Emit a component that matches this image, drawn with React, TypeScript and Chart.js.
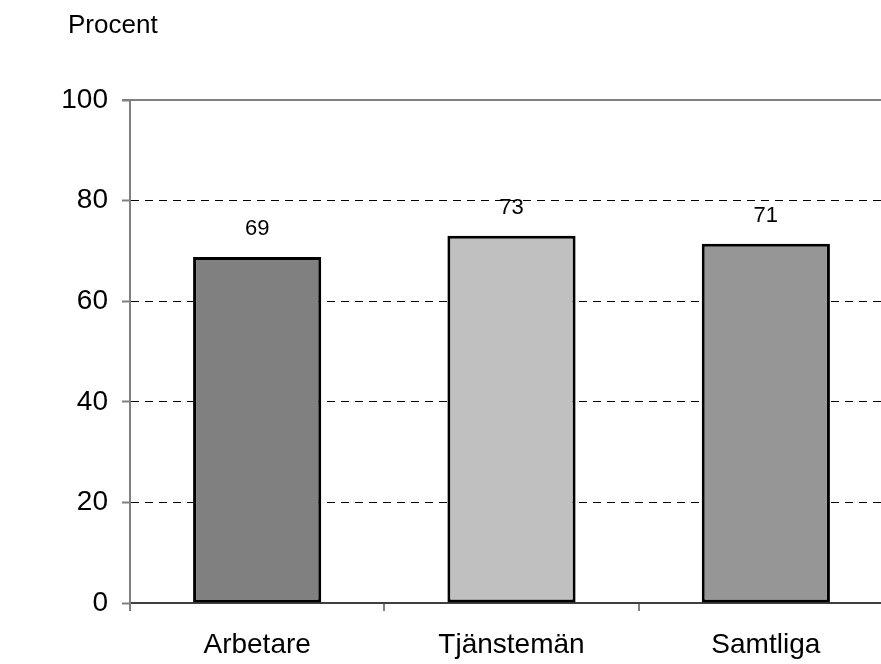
import React, { useEffect, useRef } from "react";
import { Chart, registerables } from "chart.js";

Chart.register(...registerables);

const categories = ["Arbetare", "Tjänstemän", "Samtliga"];
const values = [68.8, 73.0, 71.4];
const valueLabels = ["69", "73", "71"];
const barColors = ["#808080", "#C0C0C0", "#969696"];
const yTicks = [0, 20, 40, 60, 80, 100];
const yTitle = "Procent";

const FONT = "'Liberation Sans', Arial, sans-serif";

export default function App() {
  const ref = useRef<HTMLCanvasElement | null>(null);

  useEffect(() => {
    if (!ref.current) return;
    const overlay = {
      id: "overlay",
      afterDatasetsDraw(chart: any) {
        const ctx = chart.ctx;
        const meta = chart.getDatasetMeta(0);
        ctx.save();
        ctx.fillStyle = "#000";
        ctx.font = `22px ${FONT}`;
        ctx.textAlign = "center";
        ctx.textBaseline = "middle";
        meta.data.forEach((bar: any, i: number) => {
          ctx.fillText(valueLabels[i], bar.x, bar.y - 28);
        });
        ctx.restore();
      },
      afterDraw(chart: any) {
        const ctx = chart.ctx;
        const a = chart.chartArea;
        ctx.save();
        ctx.strokeStyle = "#808080";
        ctx.lineWidth = 2;
        ctx.beginPath();
        ctx.moveTo(a.left - 8, a.top);
        ctx.lineTo(a.right, a.top);
        ctx.stroke();
        ctx.fillStyle = "#000";
        ctx.font = `26px ${FONT}`;
        ctx.textAlign = "left";
        ctx.textBaseline = "middle";
        ctx.fillText(yTitle, 68, 26);
        ctx.restore();
      },
    };

    const chart = new Chart(ref.current, {
      type: "bar",
      data: {
        labels: categories,
        datasets: [
          {
            data: values,
            backgroundColor: barColors,
            borderColor: "#000",
            borderWidth: 3,
            borderSkipped: false,
            barPercentage: 0.504,
            categoryPercentage: 1,
          },
        ],
      },
      options: {
        responsive: false,
        animation: false,
        layout: { padding: { top: 100, left: 0, right: 0, bottom: 0 } },
        plugins: {
          legend: { display: false },
          tooltip: { enabled: false },
        },
        scales: {
          x: {
            afterFit(scale: any) {
              scale.height = 61;
            },
            grid: {
              offset: true,
              drawOnChartArea: false,
              drawTicks: true,
              tickLength: 8,
              color: "#808080",
              lineWidth: 2,
            },
            border: { display: true, color: "#404040", width: 2 },
            ticks: {
              color: "#000",
              font: { family: FONT, size: 28 },
              padding: 17,
              maxRotation: 0,
            },
          },
          y: {
            min: 0,
            max: 100,
            afterFit(scale: any) {
              scale.width = 130;
            },
            afterBuildTicks(scale: any) {
              scale.ticks = yTicks.map((v) => ({ value: v }));
            },
            grid: {
              drawTicks: true,
              tickLength: 8,
              tickColor: "#808080",
              tickWidth: 2,
              color: (c: any) =>
                c.tick && (c.tick.value === 0 || c.tick.value === 100)
                  ? "rgba(0,0,0,0)"
                  : "#000",
              lineWidth: 1,
            },
            border: { display: true, color: "#808080", width: 2, dash: [8, 6] },
            ticks: {
              color: "#000",
              font: { family: FONT, size: 28 },
              padding: 14,
            },
          },
        },
      },
      plugins: [overlay],
    });
    return () => chart.destroy();
  }, []);

  return (
    <div
      style={{
        position: "fixed",
        left: 0,
        top: 0,
        width: 881,
        height: 664,
        overflow: "hidden",
        background: "#fff",
      }}
    >
      <canvas ref={ref} width={893} height={664} style={{ display: "block" }} />
    </div>
  );
}
